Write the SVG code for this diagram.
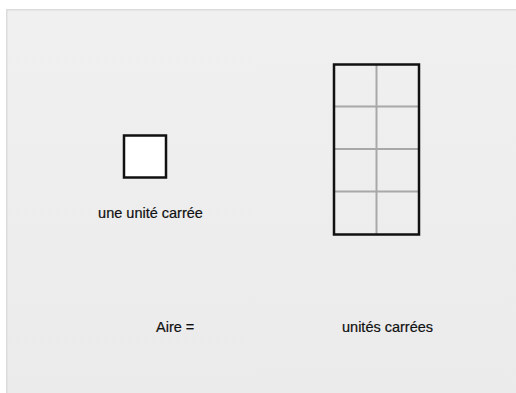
<svg xmlns="http://www.w3.org/2000/svg" width="516" height="393" viewBox="0 0 516 393">
<defs>
<linearGradient id="bg" x1="0" y1="0" x2="0" y2="1">
<stop offset="0" stop-color="#f0f0f0"/>
<stop offset="1" stop-color="#ebebeb"/>
</linearGradient>
</defs>
<style>
.lbl{font-family:"Liberation Sans",Arial,sans-serif;font-size:14.5px;fill:#111;stroke:#111;stroke-width:0.2}
.grid{stroke:#a8a8a8;stroke-width:2;fill:none}
.box{stroke:#111;stroke-width:2.5}
</style>
<rect width="516" height="393" fill="#ffffff"/>
<rect x="6" y="9" width="510" height="384" fill="url(#bg)"/>
<path d="M6.75 393V9.75H516" fill="none" stroke="#dcdcdc" stroke-width="1.5"/>
<g id="unit-square">
<rect class="box" x="124" y="135.5" width="42" height="42" fill="#ffffff"/>
<text class="lbl" x="150.5" y="218" text-anchor="middle">une unité carrée</text>
</g>
<g id="grid-rect">
<line class="grid" x1="376.5" y1="65" x2="376.5" y2="234"/>
<line class="grid" x1="335" y1="106.5" x2="418" y2="106.5"/>
<line class="grid" x1="335" y1="149" x2="418" y2="149"/>
<line class="grid" x1="335" y1="191.5" x2="418" y2="191.5"/>
<rect class="box" x="334" y="64.5" width="85" height="170" fill="none"/>
</g>
<g id="area-label">
<text class="lbl" x="156" y="332">Aire =</text>
<text class="lbl" x="342" y="332">unités carrées</text>
</g>
</svg>
